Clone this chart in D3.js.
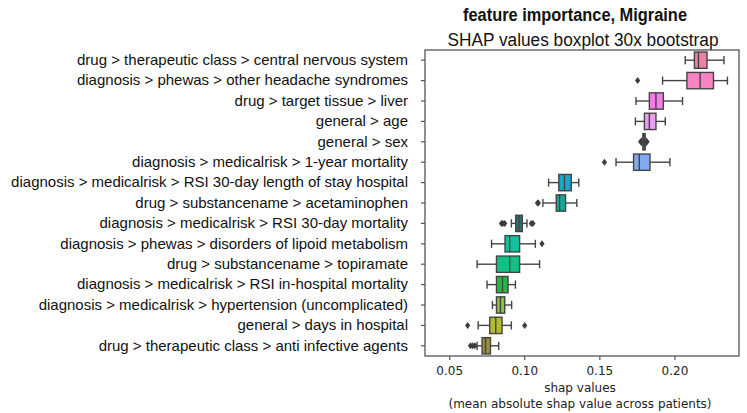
<!DOCTYPE html>
<html>
<head>
<meta charset="utf-8">
<script src="https://cdn.jsdelivr.net/npm/d3@7"></script>
<style>
body { margin: 0; background: #fff; }
</style>
</head>
<body>
<script>
const features = [
  'drug > therapeutic class > central nervous system',
  'diagnosis > phewas > other headache syndromes',
  'drug > target tissue > liver',
  'general > age',
  'general > sex',
  'diagnosis > medicalrisk > 1-year mortality',
  'diagnosis > medicalrisk > RSI 30-day length of stay hospital',
  'drug > substancename > acetaminophen',
  'diagnosis > medicalrisk > RSI 30-day mortality',
  'diagnosis > phewas > disorders of lipoid metabolism',
  'drug > substancename > topiramate',
  'diagnosis > medicalrisk > RSI in-hospital mortality',
  'diagnosis > medicalrisk > hypertension (uncomplicated)',
  'general > days in hospital',
  'drug > therapeutic class > anti infective agents'
];
const whiskerLow  = [0.2072, 0.1921, 0.1744, 0.1740, 0.1782, 0.1611, 0.1162, 0.1124, 0.0914, 0.0782, 0.0686, 0.0752, 0.0788, 0.0693, 0.0686];
const q1          = [0.2133, 0.2083, 0.1833, 0.1800, 0.1790, 0.1728, 0.1230, 0.1213, 0.0943, 0.0872, 0.0815, 0.0815, 0.0815, 0.0770, 0.0719];
const median      = [0.2160, 0.2171, 0.1877, 0.1833, 0.1797, 0.1766, 0.1268, 0.1235, 0.0965, 0.0903, 0.0903, 0.0855, 0.0841, 0.0810, 0.0742];
const q3          = [0.2217, 0.2260, 0.1926, 0.1877, 0.1805, 0.1837, 0.1313, 0.1275, 0.0987, 0.0969, 0.0969, 0.0892, 0.0870, 0.0852, 0.0775];
const whiskerHigh = [0.2330, 0.2353, 0.2054, 0.1939, 0.1812, 0.1970, 0.1363, 0.1350, 0.1018, 0.1074, 0.1102, 0.0941, 0.0916, 0.0914, 0.0830];
const outliers = [
  [], [0.1755], [], [], [0.1775, 0.1818], [0.1534], [], [0.1088, 0.1094],
  [0.0848, 0.0858, 0.0870, 0.1047, 0.1058], [0.1118], [], [], [], [0.0623, 0.1003], [0.0642, 0.0656, 0.0671]
];
const boxColors = ['#f07fa5', '#f984c4', '#f47fe6', '#e5a0ee', '#5b5b6e', '#82a9ee', '#18a7c9', '#17a59c',
  '#2e736a', '#14c2a0', '#11c183', '#1dbb3f', '#8ec33a', '#b5bb2e', '#9c8e3c'];
const xTicks = [0.05, 0.10, 0.15, 0.20];
const titleText = 'feature importance, Migraine';
const subtitleText = 'SHAP values  boxplot  30x bootstrap';
const xLabel = ['shap values', '(mean absolute shap value across patients)'];

const width = 747, height = 413;
const plot = { left: 425, top: 50, right: 739, bottom: 356 };
const edge = '#555';

const svg = d3.select('body').append('svg').attr('width', width).attr('height', height);

const x = d3.scaleLinear().domain([0.0339, 0.243]).range([plot.left, plot.right]);
const y = d3.scaleBand().domain(features).range([plot.top, plot.bottom]).padding(0);
const bw = y.bandwidth() * 0.8;

// titles (squeezed like the narrow font in the original)
svg.append('text')
  .attr('x', 575).attr('y', 21)
  .attr('text-anchor', 'middle')
  .attr('textLength', 224).attr('lengthAdjust', 'spacingAndGlyphs')
  .style('font-family', 'Liberation Sans, Arial, sans-serif')
  .style('font-weight', 'bold').style('font-size', '18px').attr('fill', '#111')
  .text(titleText);
svg.append('text')
  .attr('x', 583).attr('y', 46)
  .attr('text-anchor', 'middle')
  .attr('textLength', 271).attr('lengthAdjust', 'spacingAndGlyphs')
  .style('font-family', 'Liberation Sans, Arial, sans-serif')
  .style('font-size', '18px').attr('fill', '#111')
  .text(subtitleText);

// axes
const yAxis = svg.append('g')
  .attr('transform', `translate(${plot.left},0)`)
  .call(d3.axisLeft(y).tickSize(4).tickPadding(13));
yAxis.select('.domain').remove();
yAxis.selectAll('line').attr('stroke', edge).attr('stroke-width', 1.2);
yAxis.selectAll('text')
  .style('font-family', 'Liberation Sans, Arial, sans-serif')
  .style('font-size', '15px').attr('fill', '#111');

const xAxis = svg.append('g')
  .attr('transform', `translate(0,${plot.bottom})`)
  .call(d3.axisBottom(x).tickValues(xTicks).tickFormat(d3.format('.2f')).tickSize(4).tickPadding(6));
xAxis.select('.domain').remove();
xAxis.selectAll('line').attr('stroke', edge).attr('stroke-width', 1.2);
xAxis.selectAll('text')
  .style('font-family', 'DejaVu Sans, Verdana, sans-serif')
  .style('font-size', '12px').attr('fill', '#222');

svg.append('text')
  .attr('text-anchor', 'middle')
  .style('font-family', 'DejaVu Sans, Verdana, sans-serif')
  .style('font-size', '12px').attr('fill', '#222')
  .selectAll('tspan').data(xLabel).join('tspan')
  .attr('x', (plot.left + plot.right) / 2 - 2)
  .attr('y', (d, i) => 392 + i * 16)
  .text(d => d);

// boxes
const rows = features.map((f, i) => ({
  f, i, lo: whiskerLow[i], q1: q1[i], med: median[i], q3: q3[i], hi: whiskerHigh[i], out: outliers[i]
}));

const g = svg.append('g');
const row = g.selectAll('g.row').data(rows).join('g')
  .attr('class', 'row')
  .attr('transform', d => `translate(0,${y(d.f) + y.bandwidth() / 2})`);

row.append('line')
  .attr('x1', d => x(d.lo)).attr('x2', d => x(d.q1))
  .attr('stroke', '#444').attr('stroke-width', 1.4);
row.append('line')
  .attr('x1', d => x(d.q3)).attr('x2', d => x(d.hi))
  .attr('stroke', '#444').attr('stroke-width', 1.4);
row.selectAll('line.cap').data(d => [d.lo, d.hi]).join('line')
  .attr('class', 'cap')
  .attr('x1', v => x(v)).attr('x2', v => x(v))
  .attr('y1', -bw / 4).attr('y2', bw / 4)
  .attr('stroke', '#444').attr('stroke-width', 1.4);
row.append('rect')
  .attr('x', d => x(d.q1)).attr('width', d => x(d.q3) - x(d.q1))
  .attr('y', -bw / 2).attr('height', bw)
  .attr('fill', d => boxColors[d.i])
  .attr('stroke', '#444').attr('stroke-width', 1.4);
row.append('line')
  .attr('x1', d => x(d.med)).attr('x2', d => x(d.med))
  .attr('y1', -bw / 2).attr('y2', bw / 2)
  .attr('stroke', '#444').attr('stroke-width', 1.4);
row.selectAll('path.out').data(d => d.out).join('path')
  .attr('class', 'out')
  .attr('d', v => `M${x(v)},-3.5L${x(v) + 2.6},0L${x(v)},3.5L${x(v) - 2.6},0Z`)
  .attr('fill', '#3d3d3d');

// frame
svg.append('rect')
  .attr('x', plot.left).attr('y', plot.top)
  .attr('width', plot.right - plot.left).attr('height', plot.bottom - plot.top)
  .attr('fill', 'none').attr('stroke', edge).attr('stroke-width', 1.3);
</script>
</body>
</html>
